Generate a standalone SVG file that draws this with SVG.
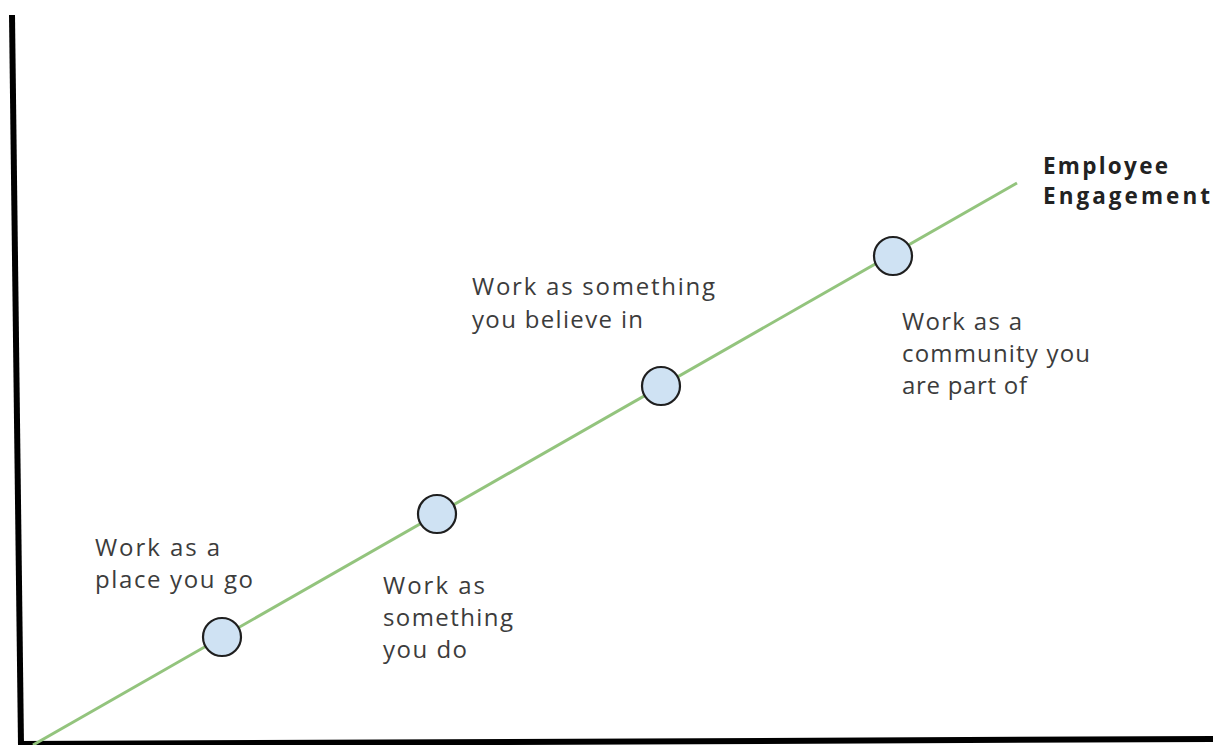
<svg xmlns="http://www.w3.org/2000/svg" width="1213" height="745" viewBox="0 0 1213 745">
<style>
.axis{stroke:#000;stroke-width:6;stroke-linecap:butt;fill:none}
.trend{stroke:#93c47d;stroke-width:3;fill:none}
.dot{fill:#cfe2f3;stroke:#1f1f1f;stroke-width:2.2}
.lbl{font-family:"Open Sans","Noto Sans","Liberation Sans",sans-serif;font-size:24px;fill:#3c3c3c}
.title{font-family:"Open Sans","Noto Sans","Liberation Sans",sans-serif;font-size:22.5px;font-weight:bold;fill:#222}
</style>
<rect width="1213" height="745" fill="#fff"/>
<g id="axes">
<line class="axis" x1="12" y1="15" x2="21" y2="745"/>
<line class="axis" x1="18" y1="744" x2="1213" y2="739"/>
</g>
<g id="connectors">
<line class="trend" x1="33" y1="745" x2="1017" y2="183"/>
</g>
<g id="node-place">
<circle class="dot" cx="222" cy="637" r="19"/>
<text class="lbl" x="95" y="556" textLength="125" lengthAdjust="spacing">Work as a</text>
<text class="lbl" x="95" y="588" textLength="158" lengthAdjust="spacing">place you go</text>
</g>
<g id="node-do">
<circle class="dot" cx="437" cy="514" r="19"/>
<text class="lbl" x="383" y="594" textLength="102" lengthAdjust="spacing">Work as</text>
<text class="lbl" x="383" y="626" textLength="130" lengthAdjust="spacing">something</text>
<text class="lbl" x="383" y="658" textLength="84" lengthAdjust="spacing">you do</text>
</g>
<g id="node-believe">
<circle class="dot" cx="661" cy="386" r="19"/>
<text class="lbl" x="472" y="295" textLength="243" lengthAdjust="spacing">Work as something</text>
<text class="lbl" x="472" y="328" textLength="171" lengthAdjust="spacing">you believe in</text>
</g>
<g id="node-community">
<circle class="dot" cx="893" cy="256" r="19"/>
<text class="lbl" x="902" y="330" textLength="120" lengthAdjust="spacing">Work as a</text>
<text class="lbl" x="902" y="362" textLength="188" lengthAdjust="spacing">community you</text>
<text class="lbl" x="902" y="394" textLength="125" lengthAdjust="spacing">are part of</text>
</g>
<g id="label-engagement">
<text class="title" x="1043" y="174" textLength="125" lengthAdjust="spacing">Employee</text>
<text class="title" x="1043" y="204" textLength="167" lengthAdjust="spacing">Engagement</text>
</g>
</svg>
